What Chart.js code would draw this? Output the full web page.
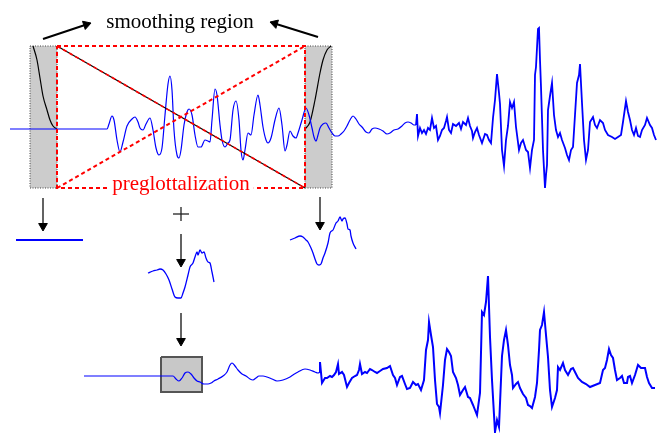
<!DOCTYPE html>
<html>
<head>
<meta charset="utf-8">
<script src="https://cdn.jsdelivr.net/npm/chart.js@4.4.1/dist/chart.umd.min.js"></script>
<style>
html, body { margin: 0; padding: 0; background: #fff; }
#wrap { width: 657px; height: 433px; position: relative; }
</style>
</head>
<body>
<div id="wrap"><canvas id="speechChart"></canvas></div>
<script>
// waveform samples, [time, amplitude] (figure units)
var topVoiced = [[10,129],[107,129],[109,124],[112,116],[114,120],[117,140],[120,152],[123,142],[127,126],[132,119],[135,117],[138,122],[140,128],[143,130],[146,124],[150,118],[153,130],[156,148],[159,155],[162,148],[165,115],[168,84],[170,76],[172,90],[174,130],[177,155],[179,158],[181,150],[184,125],[187,112],[189,109],[192,115],[195,135],[198,147],[201,147],[205,140],[208,141],[210,142],[212,120],[215,89],[217,95],[220,125],[222,140],[225,147],[228,143],[230,140],[233,110],[236,101],[239,120],[241,150],[243,160],[245,150],[248,133],[251,135],[254,115],[258,95],[260,105],[263,127],[266,140],[268,143],[271,138],[275,120],[279,108],[282,125],[285,151],[287,145],[290,131],[293,136],[296,138],[298,133],[302,120],[306,108],[309,115],[312,128],[314,137],[316,141],[318,135],[320,128],[323,124],[326,123],[329,128],[332,133],[335,136],[338,136],[341,134],[344,131],[347,126],[350,120],[353,116],[356,119],[359,124],[362,127],[366,132],[369,133],[372,129],[375,128],[379,129],[383,131],[387,134],[390,133],[394,130],[398,129],[402,126],[405,123],[408,122],[411,123],[414,125],[416,125]];
var topNoisy = [[416,125],[417,114],[418,136],[420,128],[422,133],[424,130],[426,134],[428,128],[430,130],[432,118],[434,128],[436,126],[438,140],[440,136],[442,130],[444,128],[446,121],[447,117],[449,130],[451,133],[453,124],[456,126],[459,123],[461,129],[463,122],[466,125],[468,118],[470,126],[472,131],[473,138],[475,132],[477,128],[479,135],[482,143],[485,134],[487,135],[489,140],[491,143],[493,118],[495,100],[497,74],[499,93],[500,104],[502,150],[504,166],[506,140],[508,126],[510,102],[512,108],[514,102],[516,127],[519,150],[521,143],[523,140],[526,150],[528,152],[530,168],[532,150],[534,140],[535,75],[536,67],[538,29],[539,28],[540,60],[541,87],[543,150],[545,188],[546,175],[547,165],[548,110],[550,96],[552,83],[554,115],[556,130],[558,137],[560,133],[562,140],[565,148],[567,155],[569,160],[571,150],[573,147],[575,115],[577,83],[579,75],[580,64],[582,103],[584,140],[586,160],[588,150],[590,122],[593,117],[595,125],[597,128],[600,120],[603,123],[605,130],[608,135],[612,137],[615,139],[618,137],[621,135],[623,122],[626,101],[628,112],[630,120],[632,130],[634,135],[636,128],[638,136],[640,137],[642,130],[645,125],[647,118],[650,125],[652,128],[654,135],[656,140]];
var bottomVoiced = [[84,376],[165,376],[170,376],[173,376],[176,379],[179,381],[182,378],[185,373],[188,372],[191,374],[194,378],[197,381],[200,382],[204,384],[208,384],[211,383],[214,381],[218,379],[223,376],[227,372],[230,365],[232,363],[235,366],[238,370],[242,374],[246,376],[250,379],[253,380],[256,378],[259,376],[263,376],[267,377],[272,379],[277,381],[283,380],[290,377],[293,375],[298,372],[305,369],[310,370],[315,372],[318,373],[320,372]];
var bottomNoisy = [[320,372],[320,362],[322,383],[325,378],[327,378],[330,376],[332,377],[334,375],[336,372],[338,364],[339,374],[342,372],[344,375],[347,387],[349,383],[352,378],[355,376],[357,375],[359,370],[360,364],[362,374],[365,372],[367,373],[370,369],[372,370],[375,372],[377,373],[380,371],[383,369],[387,368],[390,366],[393,375],[395,378],[397,385],[400,377],[402,376],[405,384],[407,389],[410,388],[413,382],[416,385],[418,384],[421,390],[424,380],[426,350],[428,340],[429,322],[431,335],[433,347],[435,380],[437,404],[439,407],[440,413],[443,385],[445,360],[447,349],[449,352],[451,356],[453,372],[456,378],[458,385],[460,395],[463,390],[465,387],[468,397],[470,398],[473,405],[475,410],[477,415],[480,393],[482,312],[484,315],[486,302],[488,276],[490,337],[492,380],[495,432],[497,420],[499,427],[502,356],[504,340],[506,330],[508,345],[510,365],[512,375],[513,388],[516,384],[518,382],[520,388],[523,394],[526,398],[528,405],[530,406],[532,408],[535,397],[537,383],[539,350],[540,330],[542,325],[544,312],[546,335],[548,357],[550,390],[552,407],[555,398],[557,390],[558,367],[560,370],[563,363],[565,370],[568,375],[571,369],[573,368],[575,372],[578,378],[582,382],[586,384],[590,387],[595,385],[600,383],[603,370],[605,368],[607,360],[609,349],[611,355],[613,358],[615,370],[617,380],[620,378],[622,376],[624,383],[627,383],[628,377],[630,376],[632,383],[635,375],[638,365],[641,368],[643,368],[645,368],[647,377],[649,383],[652,388],[655,388]];
var pieceLeft = [[16,240],[83,240]];
var pieceMiddle = [[148,273],[153,271],[157,270],[160,269],[163,270],[166,274],[169,280],[172,289],[175,297],[178,298],[181,298],[183,293],[185,287],[188,275],[190,267],[193,263],[195,257],[197,252],[198,255],[200,250],[202,253],[204,252],[206,258],[208,262],[210,263],[212,272],[214,282]];
var pieceRight = [[290,240],[295,238],[300,236],[303,237],[306,240],[308,242],[311,248],[313,253],[315,259],[317,264],[319,265],[321,264],[323,258],[325,253],[328,243],[330,233],[333,230],[336,223],[338,221],[340,217],[342,221],[343,219],[345,218],[347,224],[348,229],[350,230],[351,236],[353,243],[356,249]];
// smoothing windows (half cosine ramps)
var rampDown = [[33,46],[37,60],[40,78],[43,96],[47,110],[50,120],[53,126],[57,129]];
var rampUp = [[305,129],[310,122],[315,100],[320,73],[323,60],[327,50],[331,46]];

// regions: [x0, y0, x1, y1]
var smoothBoxes = [[30,46,57,188],[305,46,332,188]];
var pregRegion = [57,46,305,188];
var resultBox = [161,357,202,392];
// arrows: [tailX, tailY, tipX, tipY]
var arrows = [[43,39,91,23],[318,37,270,22],[43,198,43,231],[181,234,181,267],[320,197,320,230],[181,313,181,346]];
var labels = ['smoothing region', 'preglottalization'];

function pts(list) {
    return list.map(function (p) { return { x: p[0], y: p[1] }; });
}
function lineSet(list, color, width, extra) {
    return Object.assign({
        data: pts(list), showLine: true, borderColor: color, borderWidth: width,
        pointRadius: 0, fill: false, tension: 0
    }, extra || {});
}
function boxPath(b) {
    return [[b[0],b[1]],[b[2],b[1]],[b[2],b[3]],[b[0],b[3]],[b[0],b[1]]];
}

var blue = '#0000ff';
var red = '#ff0000';
var smooth = { cubicInterpolationMode: 'monotone' };
var dashed = { borderDash: [4, 3] };
var sets = [];

// bottom layer first
smoothBoxes.forEach(function (b) {
    sets.push(lineSet(boxPath(b), '#444', 1, { fill: 'shape', backgroundColor: '#cccccc', borderDash: [1, 1.5] }));
});
sets.push(lineSet(boxPath(resultBox), '#555', 2, { fill: 'shape', backgroundColor: '#c8c8c8' }));
sets.push(lineSet(rampDown, '#000', 1.2, smooth));
sets.push(lineSet(rampUp, '#000', 1.2, smooth));
sets.push(lineSet(topVoiced, blue, 1.2, smooth));
sets.push(lineSet(topNoisy, blue, 1.8));
sets.push(lineSet(bottomVoiced, blue, 1.2, smooth));
sets.push(lineSet(bottomNoisy, blue, 2));
sets.push(lineSet(pieceLeft, blue, 2));
sets.push(lineSet(pieceMiddle, blue, 1.3, smooth));
sets.push(lineSet(pieceRight, blue, 1.3, smooth));

var r = pregRegion;
sets.push(lineSet([[r[0], r[1]], [r[2], r[3]]], '#000', 1.2));
sets.push(lineSet([[r[0], r[1]], [r[2], r[3]]], red, 1.6, dashed));
sets.push(lineSet(boxPath(r), red, 2, dashed));
sets.push(lineSet([[r[0], r[3]], [r[2], r[1]]], red, 2, dashed));

// plus sign
sets.push(lineSet([[173,214],[189,214]], '#222', 1.3));
sets.push(lineSet([[181,207],[181,221]], '#222', 1.3));

// arrows: shaft + triangle head
var headR = 5;
var heads = [], rots = [];
arrows.forEach(function (a, i) {
    var dx = a[2] - a[0], dy = a[3] - a[1];
    var len = Math.sqrt(dx * dx + dy * dy);
    var ux = dx / len, uy = dy / len;
    var w = i < 2 ? 2 : 1.4;
    sets.push(lineSet([[a[0], a[1]], [a[2] - ux * 4, a[3] - uy * 4]], i < 2 ? '#000' : '#222', w));
    heads.push([a[2] - ux * headR, a[3] - uy * headR]);
    rots.push(Math.atan2(dx, -dy) * 180 / Math.PI);
});
sets.push({
    data: pts(heads), showLine: false, pointStyle: 'triangle', pointRadius: headR,
    pointRotation: rots, backgroundColor: '#000', borderColor: '#000', borderWidth: 1
});

sets.forEach(function (s, i) { s.order = sets.length - i; });

var labelPlugin = {
    id: 'diagramLabels',
    afterDatasetsDraw: function (chart) {
        var ctx = chart.ctx, xs = chart.scales.x, ys = chart.scales.y;
        var spots = [
            { x: 180, y: 28, color: '#000', bg: null },
            { x: 181, y: 190, color: red, bg: '#fff' }
        ];
        labels.forEach(function (text, i) {
            var s = spots[i];
            var px = xs.getPixelForValue(s.x), py = ys.getPixelForValue(s.y);
            ctx.save();
            ctx.font = '21px "Liberation Serif", "DejaVu Serif", serif';
            ctx.textAlign = 'center';
            ctx.textBaseline = 'alphabetic';
            if (s.bg) {
                var w = ctx.measureText(text).width;
                ctx.fillStyle = s.bg;
                ctx.fillRect(px - w / 2 - 4, py - 14, w + 8, 16);
            }
            ctx.fillStyle = s.color;
            ctx.fillText(text, px, py);
            ctx.restore();
        });
    }
};

var ctx = document.getElementById('speechChart').getContext('2d');
var speechChart = new Chart(ctx, {
    type: 'scatter',
    data: { datasets: sets },
    options: {
        responsive: true,
        maintainAspectRatio: false,
        animation: false,
        layout: { padding: 0, autoPadding: false },
        scales: {
            x: { type: 'linear', min: 0, max: 657, display: false },
            y: { type: 'linear', min: 0, max: 433, reverse: true, display: false }
        },
        plugins: {
            legend: { display: false },
            tooltip: { enabled: false }
        }
    },
    plugins: [labelPlugin]
});
</script>
</body>
</html>
